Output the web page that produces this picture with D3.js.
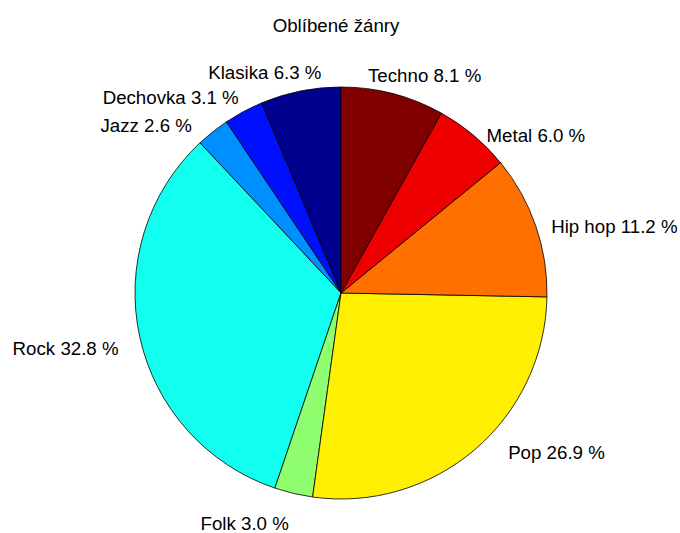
<!DOCTYPE html>
<html>
<head>
<meta charset="utf-8">
<script src="https://cdn.jsdelivr.net/npm/d3@7"></script>
<style>
  body{ margin:0; background:#fff; }
  text{ font-family:"Liberation Sans", Arial, sans-serif; font-size:18.7px; fill:#000; }
</style>
</head>
<body>
<svg id="canvas" width="680" height="533"></svg>
<script>
// ************************************************************************************** //
// Data

var genres = ['Klasika', 'Dechovka', 'Jazz', 'Rock', 'Folk', 'Pop', 'Hip hop', 'Metal', 'Techno'];
var shares = [6.3, 3.1, 2.6, 32.8, 3.0, 26.9, 11.2, 6.0, 8.1];
var title_text = 'Oblíbené žánry';

// jet colormap rows picked for 9 slices
var jet_colors = ['#00008f', '#0010ff', '#008fff', '#10ffef', '#8fff70', '#ffef00', '#ff7000', '#ef0000', '#800000'];

// small hand nudges for labels, px
var label_nudge = [[25, 2], [5, 4], [-8, 10], [-1, 7], [0, 10], [20, -13], [-4, 8], [0, 16], [-30, 2]];

// ************************************************************************************** //
// Drawing the pie

var cx = 341, cy = 293, radius = 206;
var svg = d3.select('#canvas');

svg.append('text')
  .attr('x', 336).attr('y', 25).attr('dy', '0.35em')
  .attr('text-anchor', 'middle')
  .text(title_text);

var pie_g = svg.append('g').attr('transform', 'translate(' + cx + ',' + cy + ')');

// counterclockwise from the top, like Octave's pie
var pie = d3.pie().sort(null).startAngle(0).endAngle(-2 * Math.PI);
var arc = d3.arc().innerRadius(0).outerRadius(radius);
var slices = pie(shares);

pie_g.selectAll('path.slice')
  .data(slices)
  .enter().append('path')
  .attr('class', 'slice')
  .attr('d', arc)
  .attr('fill', function(d, i){ return jet_colors[i]; })
  .attr('stroke', '#000')
  .attr('stroke-width', 0.8)
  .attr('stroke-linejoin', 'round');

// labels at 1.1 r, aligned away from the pie
var label_r = 1.1 * radius;
pie_g.selectAll('text.lbl')
  .data(slices)
  .enter().append('text')
  .attr('class', 'lbl')
  .attr('x', function(d, i){
    var a = (d.startAngle + d.endAngle) / 2;
    return Math.sin(a) * label_r + label_nudge[i][0];
  })
  .attr('y', function(d, i){
    var a = (d.startAngle + d.endAngle) / 2;
    return -Math.cos(a) * label_r + label_nudge[i][1];
  })
  .attr('dy', '0.35em')
  .attr('text-anchor', function(d){
    var a = (d.startAngle + d.endAngle) / 2;
    return Math.sin(a) > 0 ? 'start' : 'end';
  })
  .text(function(d, i){ return genres[i] + ' ' + shares[i].toFixed(1) + ' %'; });
</script>
</body>
</html>
